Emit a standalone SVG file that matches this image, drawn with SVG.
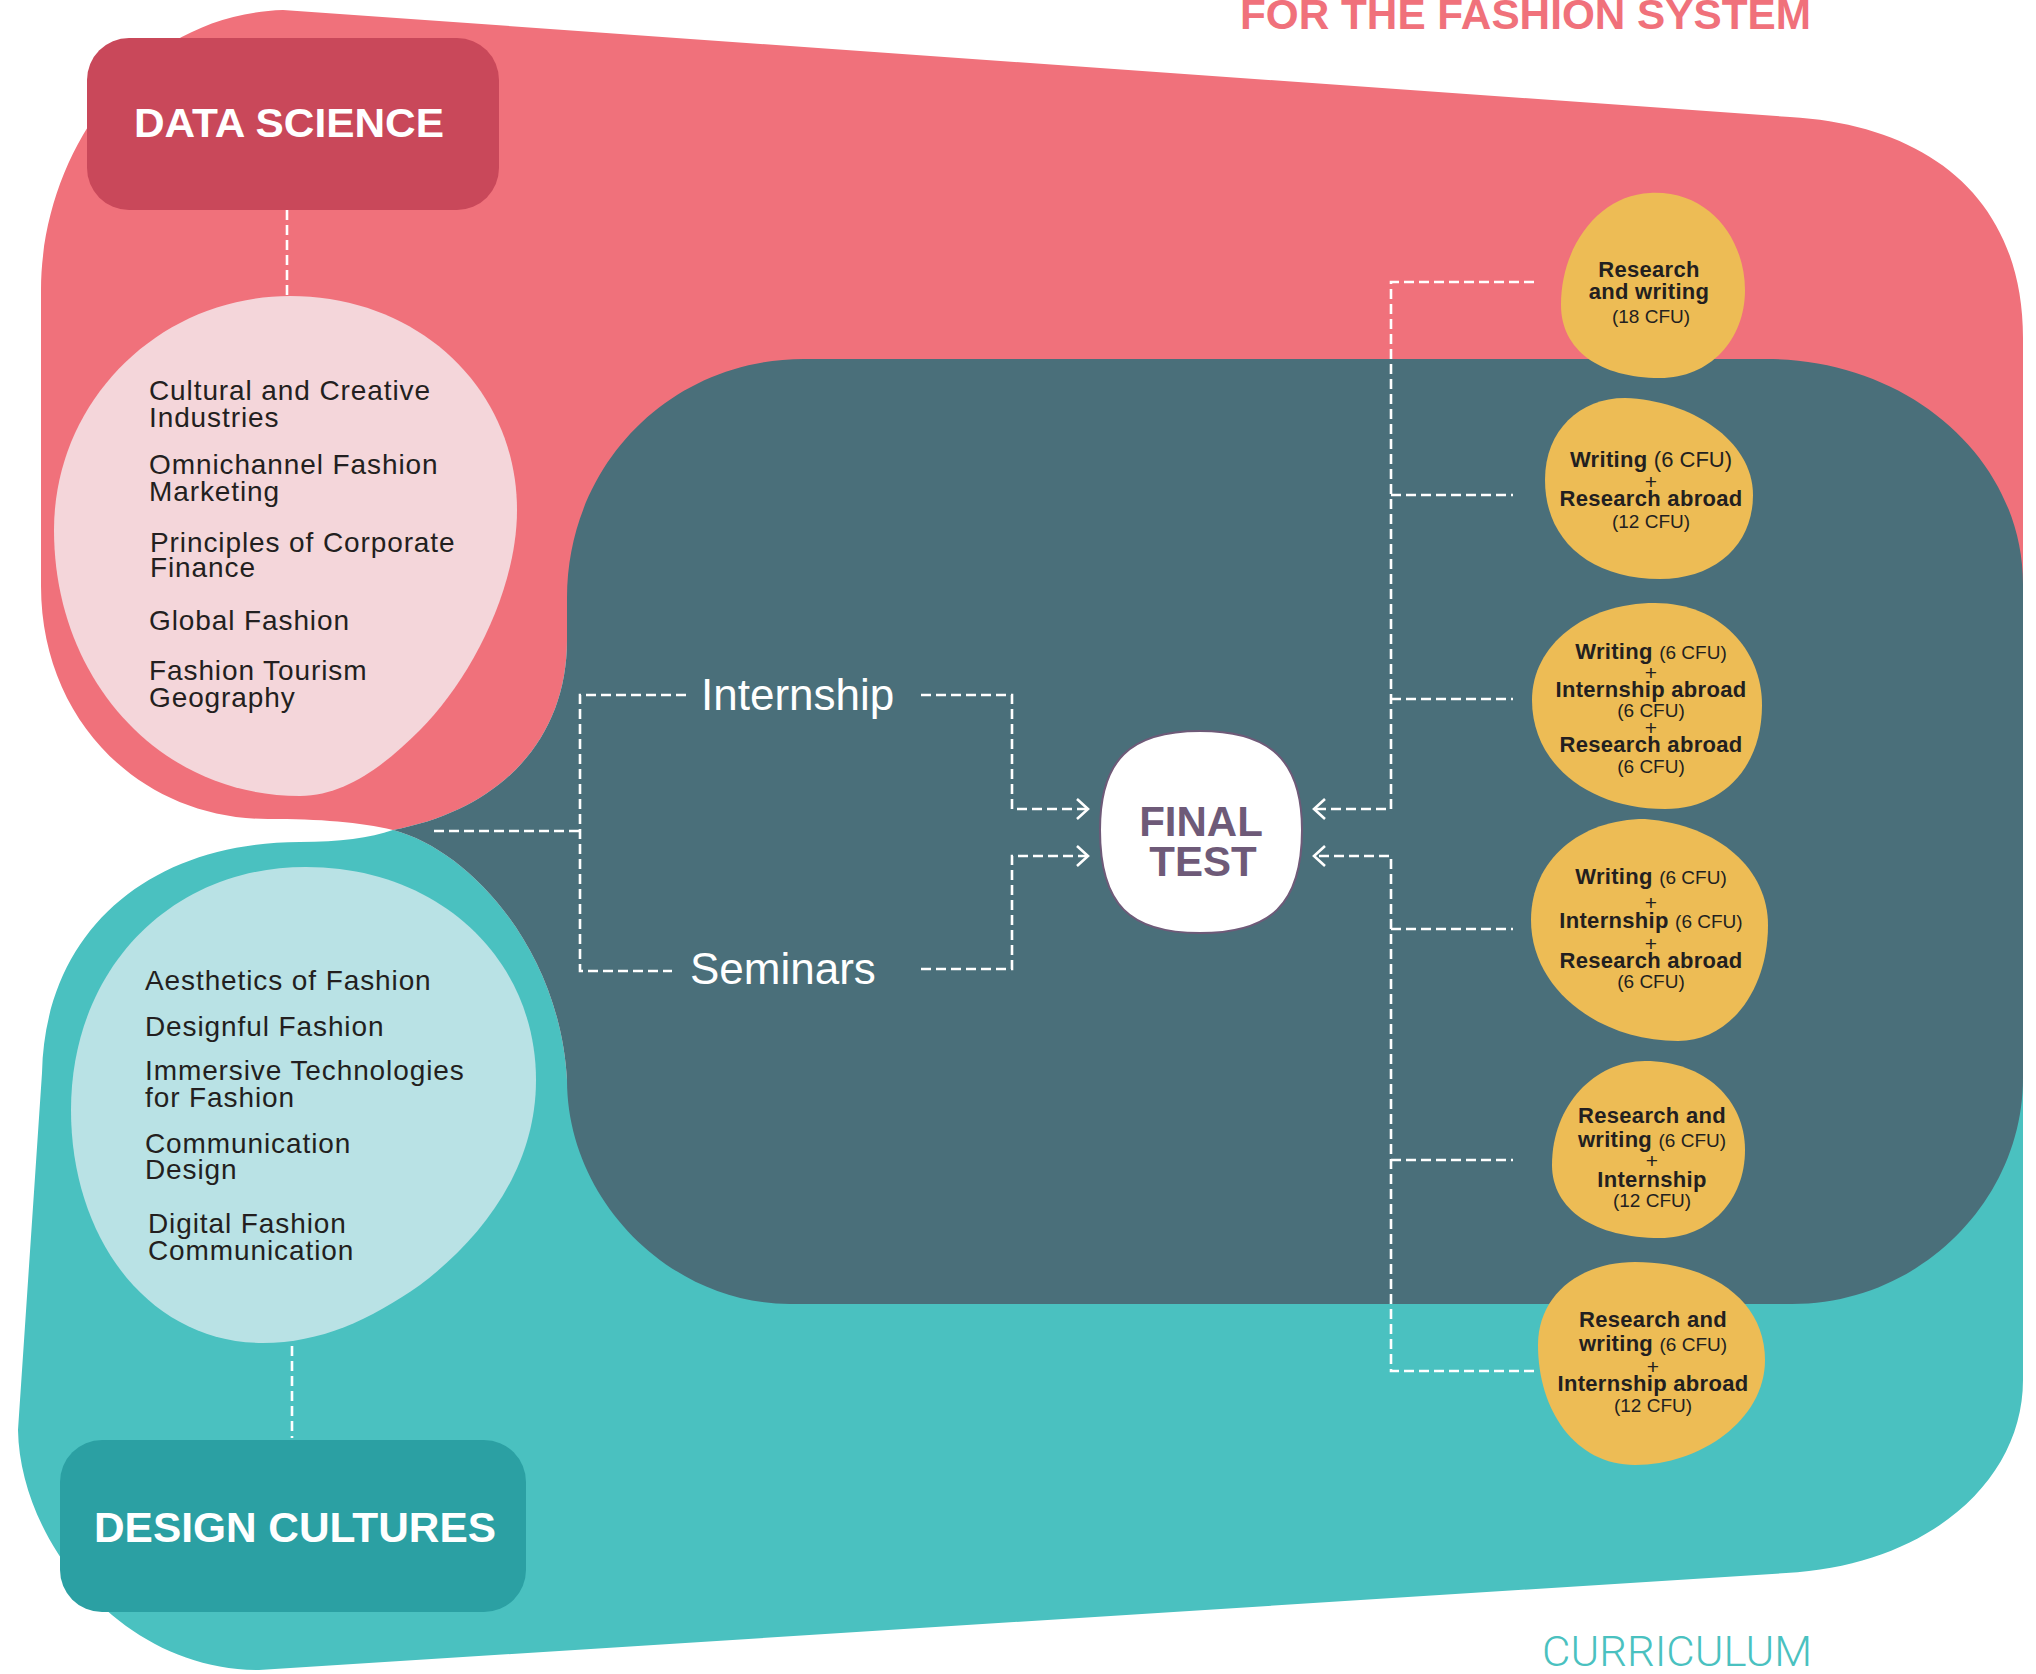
<svg xmlns="http://www.w3.org/2000/svg" width="2036" height="1674" viewBox="0 0 2036 1674">
<defs>
<style>
.dash{fill:none;stroke:#fff;stroke-width:2.6;stroke-dasharray:10 5}
.course{font-family:'Liberation Sans',Arial,sans-serif;font-size:28px;letter-spacing:0.9px;fill:#231f20}
.ob{font-family:'Liberation Sans',Arial,sans-serif;font-weight:bold;font-size:22px;letter-spacing:0.3px;fill:#231f20;text-anchor:middle}
.cfu{font-weight:normal;font-size:19px;letter-spacing:0}
.cfu22{font-weight:normal;font-size:22px;letter-spacing:0}
.plus{font-weight:normal;font-size:21px}
.orange{fill:#EDBC55}
.label{font-family:'Liberation Sans',Arial,sans-serif;font-size:44px;fill:#fff}
.head{font-family:'Liberation Sans',Arial,sans-serif;font-weight:bold;fill:#fff}
</style>
<marker id="arr" markerUnits="userSpaceOnUse" viewBox="-14 -12 16 24" markerWidth="16" markerHeight="24" refX="0" refY="0" orient="auto">
<path d="M-11,-10 L0,0 L-11,10" fill="none" stroke="#fff" stroke-width="2.6" stroke-dasharray="none"/>
</marker>
</defs>
<rect width="2036" height="1674" fill="#fff"/>

<!-- background shapes -->
<path id="pink-area" d="M283 10 L1790 117 C1930 125 2023 200 2023 338 L2023 640 L567 640 C567 740 500 810 393 830 C360 822 320 819 268 819 C140 819 41 720 41 586 L41 290 C41 160 130 15 283 10 Z" fill="#F0717B"/>
<path id="teal-area" d="M393 830 C370 838 340 842 300 842 C150 842 45 930 42 1073 L18 1430 C20 1540 120 1670 259 1670 L1786 1573 C1930 1565 2023 1480 2023 1380 L2023 1080 L567 1080 C560 950 470 850 393 830 Z" fill="#4AC1C0"/>
<path id="dark-area" d="M804 359 L1766 359 C1910 359 2023 460 2023 584 L2023 1078 C2023 1200 1920 1304 1792 1304 L790 1304 C670 1304 567 1200 567 1080 C560 950 470 850 393 830 C500 810 567 740 567 640 L567 598 C567 465 670 359 804 359 Z" fill="#4A6F7A"/>

<text x="1240" y="29" font-family="'Liberation Sans',Arial,sans-serif" font-weight="bold" font-size="42" fill="#F0717B" textLength="571" lengthAdjust="spacingAndGlyphs">FOR THE FASHION SYSTEM</text>
<text x="1542" y="1666" font-family="Roboto,'Liberation Sans',sans-serif" font-weight="300" font-size="42" fill="#4AC1C0" textLength="270" lengthAdjust="spacingAndGlyphs">CURRICULUM</text>

<!-- connectors -->
<g id="connectors">
<path class="dash" d="M287 210 V296"/>
<path class="dash" d="M292 1346 V1438"/>
<path class="dash" d="M434 831 H580"/>
<path class="dash" d="M686 695 H580 V971 H672"/>
<path class="dash" d="M921 695 H1012 V809 H1088" marker-end="url(#arr)"/>
<path class="dash" d="M921 969 H1012 V856 H1088" marker-end="url(#arr)"/>
<path class="dash" d="M1534 282 H1391 V809 H1314" marker-end="url(#arr)"/>
<path class="dash" d="M1534 1371 H1391 V856 H1314" marker-end="url(#arr)"/>
<path class="dash" d="M1391 495 H1513"/>
<path class="dash" d="M1391 699 H1513"/>
<path class="dash" d="M1391 929 H1513"/>
<path class="dash" d="M1391 1160 H1513"/>
</g>

<g id="data-science">
<rect x="87" y="38" width="412" height="172" rx="42" fill="#C9485A"/>
<text class="head" x="134" y="137" font-size="40" textLength="310" lengthAdjust="spacingAndGlyphs">DATA SCIENCE</text>
</g>

<g id="design-cultures">
<rect x="60" y="1440" width="466" height="172" rx="42" fill="#2BA0A3"/>
<text class="head" x="94" y="1542" font-size="42" textLength="402" lengthAdjust="spacingAndGlyphs">DESIGN CULTURES</text>
</g>

<g id="data-science-courses">
<path d="M290 296 C420 296 517 390 517 510 C517 590 470 680 420 730 C385 765 345 796 300 796 C160 796 54 680 54 530 C54 400 160 296 290 296 Z" fill="#F4D6DA"/>
<text class="course" x="149" y="400">Cultural and Creative</text>
<text class="course" x="149" y="427">Industries</text>
<text class="course" x="149" y="474">Omnichannel Fashion</text>
<text class="course" x="149" y="501">Marketing</text>
<text class="course" x="150" y="552">Principles of Corporate</text>
<text class="course" x="150" y="577">Finance</text>
<text class="course" x="149" y="630">Global Fashion</text>
<text class="course" x="149" y="680">Fashion Tourism</text>
<text class="course" x="149" y="707">Geography</text>
</g>

<g id="design-cultures-courses">
<path d="M306 867 C440 867 536 960 536 1080 C536 1170 480 1240 420 1285 C370 1320 320 1343 263 1343 C150 1343 71 1240 71 1110 C71 970 170 867 306 867 Z" fill="#B9E2E5"/>
<text class="course" x="145" y="990">Aesthetics of Fashion</text>
<text class="course" x="145" y="1036">Designful Fashion</text>
<text class="course" x="145" y="1080">Immersive Technologies</text>
<text class="course" x="145" y="1107">for Fashion</text>
<text class="course" x="145" y="1153">Communication</text>
<text class="course" x="145" y="1179">Design</text>
<text class="course" x="148" y="1233">Digital Fashion</text>
<text class="course" x="148" y="1260">Communication</text>
</g>

<g id="internship">
<text class="label" x="701" y="710">Internship</text>
</g>
<g id="seminars">
<text class="label" x="690" y="984">Seminars</text>
</g>

<g id="final-test">
<path d="M1200 731 C1270 731 1302 760 1302 830 C1302 905 1270 933 1200 933 C1130 933 1100 905 1100 830 C1100 760 1130 731 1200 731 Z" fill="#fff" stroke="#6E5A78" stroke-width="2"/>
<text x="1201" y="836" text-anchor="middle" font-family="'Liberation Sans',Arial,sans-serif" font-weight="bold" font-size="42" fill="#6E5A78">FINAL</text>
<text x="1203" y="876" text-anchor="middle" font-family="'Liberation Sans',Arial,sans-serif" font-weight="bold" font-size="42" fill="#6E5A78">TEST</text>
</g>

<g id="option-1">
<path class="orange" d="M1650 193 C1710 190 1745 240 1745 290 C1745 340 1710 378 1660 378 C1600 378 1561 350 1561 305 C1561 245 1600 195 1650 193 Z"/>
<text class="ob" x="1649" y="277">Research</text>
<text class="ob" x="1649" y="299">and writing</text>
<text class="ob cfu" x="1651" y="323">(18 CFU)</text>
</g>

<g id="option-2">
<path class="orange" d="M1625 398 C1690 400 1753 440 1753 495 C1753 545 1715 579 1660 579 C1590 579 1545 540 1545 480 C1545 430 1580 398 1625 398 Z"/>
<text class="ob" x="1651" y="467">Writing <tspan class="cfu22">(6 CFU)</tspan></text>
<text class="ob plus" x="1651" y="489">+</text>
<text class="ob" x="1651" y="506">Research abroad</text>
<text class="ob cfu" x="1651" y="528">(12 CFU)</text>
</g>

<g id="option-3">
<path class="orange" d="M1655 603 C1720 603 1762 650 1762 705 C1762 770 1720 809 1665 809 C1590 809 1532 765 1532 700 C1532 645 1585 603 1655 603 Z"/>
<text class="ob" x="1651" y="659">Writing <tspan class="cfu">(6 CFU)</tspan></text>
<text class="ob plus" x="1651" y="680">+</text>
<text class="ob" x="1651" y="697">Internship abroad</text>
<text class="ob cfu" x="1651" y="717">(6 CFU)</text>
<text class="ob plus" x="1651" y="735">+</text>
<text class="ob" x="1651" y="752">Research abroad</text>
<text class="ob cfu" x="1651" y="773">(6 CFU)</text>
</g>

<g id="option-4">
<path class="orange" d="M1645 819 C1720 825 1768 870 1768 925 C1768 990 1730 1041 1678 1041 C1600 1041 1531 990 1531 920 C1531 860 1580 819 1645 819 Z"/>
<text class="ob" x="1651" y="884">Writing <tspan class="cfu">(6 CFU)</tspan></text>
<text class="ob plus" x="1651" y="910">+</text>
<text class="ob" x="1651" y="928">Internship <tspan class="cfu">(6 CFU)</tspan></text>
<text class="ob plus" x="1651" y="951">+</text>
<text class="ob" x="1651" y="968">Research abroad</text>
<text class="ob cfu" x="1651" y="988">(6 CFU)</text>
</g>

<g id="option-5">
<path class="orange" d="M1645 1061 C1705 1061 1745 1100 1745 1150 C1745 1200 1710 1238 1660 1238 C1595 1238 1552 1210 1552 1165 C1552 1105 1595 1061 1645 1061 Z"/>
<text class="ob" x="1652" y="1123">Research and</text>
<text class="ob" x="1652" y="1147">writing <tspan class="cfu">(6 CFU)</tspan></text>
<text class="ob plus" x="1652" y="1168">+</text>
<text class="ob" x="1652" y="1187">Internship</text>
<text class="ob cfu" x="1652" y="1207">(12 CFU)</text>
</g>

<g id="option-6">
<path class="orange" d="M1635 1262 C1710 1262 1765 1300 1765 1360 C1765 1420 1700 1465 1635 1465 C1575 1465 1538 1410 1538 1345 C1538 1295 1580 1262 1635 1262 Z"/>
<text class="ob" x="1653" y="1327">Research and</text>
<text class="ob" x="1653" y="1351">writing <tspan class="cfu">(6 CFU)</tspan></text>
<text class="ob plus" x="1653" y="1374">+</text>
<text class="ob" x="1653" y="1391">Internship abroad</text>
<text class="ob cfu" x="1653" y="1412">(12 CFU)</text>
</g>
</svg>
